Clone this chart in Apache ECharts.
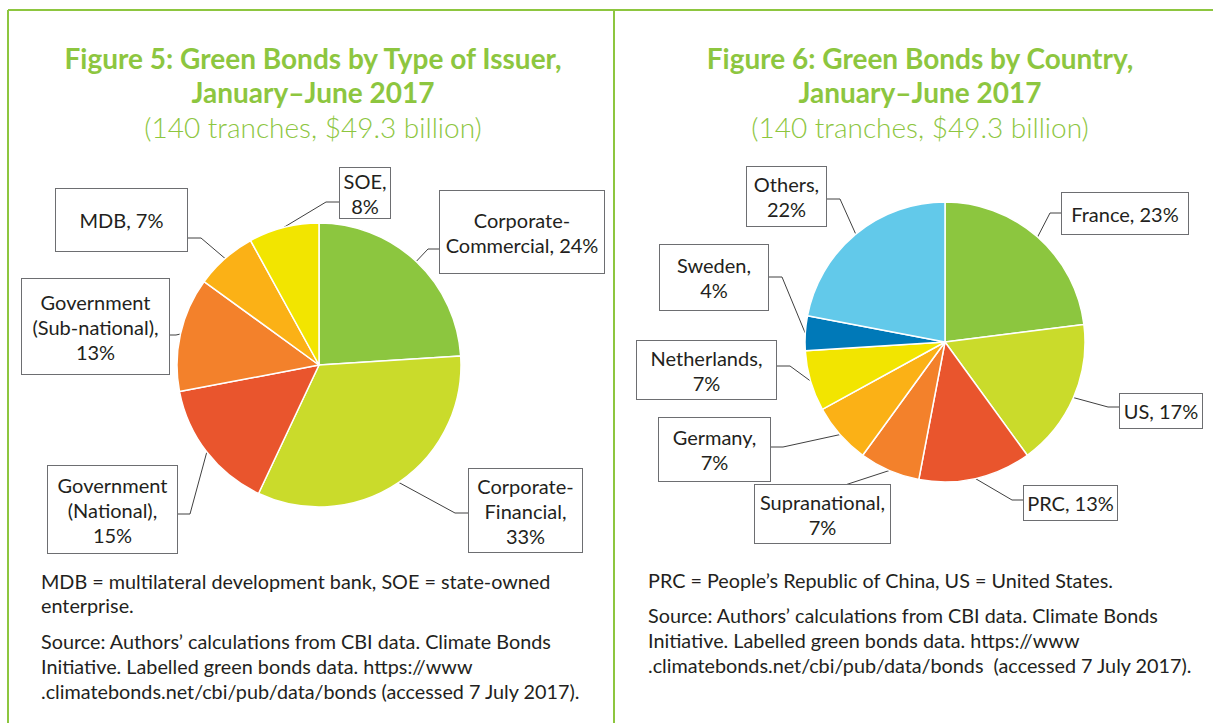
<!DOCTYPE html>
<html>
<head>
<meta charset="utf-8">
<script src="https://cdn.jsdelivr.net/npm/echarts@6/dist/echarts.min.js"></script>
<style>
  html, body { margin: 0; padding: 0; background: #ffffff; }
  #chart { width: 1213px; height: 723px; }
</style>
</head>
<body>
<div id="chart"></div>
<script>
// ---- Figure 5: green bonds by type of issuer (share of issuance, %) ----
const issuerNames = ['Corporate-\nCommercial', 'Corporate-\nFinancial', 'Government\n(National)',
                     'Government\n(Sub-national)', 'MDB', 'SOE'];
const issuerShares = [24, 33, 15, 13, 7, 8];
const issuerColors = ['#8cc63f', '#cadb2b', '#e9552d', '#f3812b', '#fbb116', '#f2e500'];

// ---- Figure 6: green bonds by country (share of issuance, %) ----
const countryNames = ['France', 'US', 'PRC', 'Supranational', 'Germany', 'Netherlands', 'Sweden', 'Others'];
const countryShares = [23, 17, 13, 7, 7, 7, 4, 22];
const countryColors = ['#8cc63f', '#cadb2b', '#e9552d', '#f3812b', '#fbb116', '#f2e500', '#0079b8', '#62c9ea'];

// Callout boxes: box [left, top, width, height], text lines, leader elbow and attach point
const issuerCallouts = [
  { box: [439, 191, 166, 82], lines: 2, breakValue: false, elbow: [428, 249], attach: [439, 249] },
  { box: [468, 469, 115, 83], lines: 3, breakValue: true,  elbow: [455, 513], attach: [468, 513] },
  { box: [47, 466, 131, 87],  lines: 3, breakValue: true,  elbow: [190, 514], attach: [178, 514] },
  { box: [21, 279, 149, 95],  lines: 3, breakValue: true,  elbow: [176, 335], attach: [170, 335] },
  { box: [55, 189, 133, 62],  lines: 1, breakValue: false, elbow: [201, 238], attach: [188, 238] },
  { box: [339, 168, 52, 50],  lines: 2, breakValue: true,  elbow: [326, 202], attach: [339, 202] }
];
const countryCallouts = [
  { box: [1061, 193, 128, 41], lines: 1, breakValue: false, elbow: [1050, 213], attach: [1061, 213] },
  { box: [1119, 394, 84, 34],  lines: 1, breakValue: false, elbow: [1108, 407], attach: [1119, 407] },
  { box: [1023, 486, 95, 34],  lines: 1, breakValue: false, elbow: [1012, 500], attach: [1023, 500] },
  { box: [754, 485, 137, 58],  lines: 2, breakValue: true,  elbow: [845, 485],  attach: [845, 485] },
  { box: [658, 418, 113, 63],  lines: 2, breakValue: true,  elbow: [783, 447],  attach: [771, 447] },
  { box: [636, 341, 141, 58],  lines: 2, breakValue: true,  elbow: [790, 366],  attach: [777, 366] },
  { box: [659, 245, 110, 65],  lines: 2, breakValue: true,  elbow: [782, 277],  attach: [769, 277] },
  { box: [746, 167, 81, 59],   lines: 2, breakValue: true,  elbow: [840, 199],  attach: [827, 199] }
];

const GREEN = '#8dc63f';
const INK = '#231f20';
const FONT = 'Lato, "Open Sans", sans-serif';
const LABEL_SIZE = 20;
const LINE_H = 25;
const NOTE_SIZE = 19.8;

function buildData(names, values, colors, callouts) {
  return names.map(function (name, i) {
    const c = callouts[i];
    const padV = Math.max(0, (c.box[3] - c.lines * LINE_H) / 2);
    return {
      name: name,
      value: values[i],
      itemStyle: { color: colors[i] },
      label: { width: c.box[2] - 4, padding: [padV, 1], overflow: 'none' }
    };
  });
}

function labelFormatter(callouts) {
  return function (p) {
    const c = callouts[p.dataIndex];
    return p.name + (c.breakValue ? ',\n' : ', ') + p.value + '%';
  };
}

function layoutFor(callouts) {
  return function (p) {
    const c = callouts[p.dataIndex];
    return {
      x: c.box[0] + c.box[2] / 2,
      y: c.box[1] + c.box[3] / 2,
      align: 'center',
      verticalAlign: 'middle',
      labelLinePoints: [p.labelLinePoints[0], c.elbow, c.attach]
    };
  };
}

function pieSeries(center, radius, names, values, colors, callouts) {
  return {
    type: 'pie',
    center: center,
    radius: radius,
    startAngle: 90,
    clockwise: true,
    animation: false,
    silent: true,
    itemStyle: { borderColor: '#ffffff', borderWidth: 1.5 },
    label: {
      show: true,
      position: 'outside',
      formatter: labelFormatter(callouts),
      color: INK,
      fontFamily: FONT,
      fontSize: LABEL_SIZE,
      lineHeight: LINE_H,
      overflow: 'none',
      backgroundColor: '#ffffff',
      borderColor: '#6d6e71',
      borderWidth: 1
    },
    labelLine: { show: true, lineStyle: { color: '#404040', width: 1 } },
    labelLayout: layoutFor(callouts),
    data: buildData(names, values, colors, callouts)
  };
}

function titleText(x, y, text, weight) {
  return {
    type: 'text', x: x, y: y, silent: true,
    style: {
      text: text, fill: GREEN, fontFamily: FONT, fontSize: 28, fontWeight: weight,
      textAlign: 'center', textVerticalAlign: 'middle'
    }
  };
}

function noteText(x, y, text, lh) {
  return {
    type: 'text', x: x, y: y, silent: true,
    style: {
      text: text, fill: INK, fontFamily: FONT, fontSize: NOTE_SIZE, lineHeight: lh,
      textAlign: 'left', textVerticalAlign: 'top'
    }
  };
}

const chart = echarts.init(document.getElementById('chart'), null, { renderer: 'svg' });

chart.setOption({
  backgroundColor: '#ffffff',
  animation: false,
  series: [
    pieSeries([319, 365], 142, issuerNames, issuerShares, issuerColors, issuerCallouts),
    pieSeries([945, 342], 140, countryNames, countryShares, countryColors, countryCallouts)
  ],
  graphic: [
    // panel frame
    { type: 'line', silent: true, shape: { x1: 8, y1: 10, x2: 1213, y2: 10 }, style: { stroke: GREEN, lineWidth: 2 } },
    { type: 'line', silent: true, shape: { x1: 8, y1: 10, x2: 8, y2: 723 }, style: { stroke: GREEN, lineWidth: 2 } },
    { type: 'line', silent: true, shape: { x1: 614, y1: 10, x2: 614, y2: 723 }, style: { stroke: GREEN, lineWidth: 2 } },

    // headings
    titleText(313, 58, 'Figure 5: Green Bonds by Type of Issuer,', 'bold'),
    titleText(313, 92, 'January\u2013June 2017', 'bold'),
    titleText(313, 127, '(140 tranches, $49.3 billion)', 300),
    titleText(920, 58, 'Figure 6: Green Bonds by Country,', 'bold'),
    titleText(920, 92, 'January\u2013June 2017', 'bold'),
    titleText(920, 127, '(140 tranches, $49.3 billion)', 300),

    // notes and sources
    noteText(41, 569, 'MDB = multilateral development bank, SOE = state-owned\nenterprise.', 24),
    noteText(41, 628, 'Source: Authors\u2019 calculations from CBI data. Climate Bonds\nInitiative. Labelled green bonds data. https://www\n.climatebonds.net/cbi/pub/data/bonds (accessed 7 July 2017).', 25),
    noteText(648, 568, 'PRC = People\u2019s Republic of China, US = United States.', 24),
    noteText(648, 602, 'Source: Authors\u2019 calculations from CBI data. Climate Bonds\nInitiative. Labelled green bonds data. https://www\n.climatebonds.net/cbi/pub/data/bonds  (accessed 7 July 2017).', 25)
  ]
});
</script>
</body>
</html>
